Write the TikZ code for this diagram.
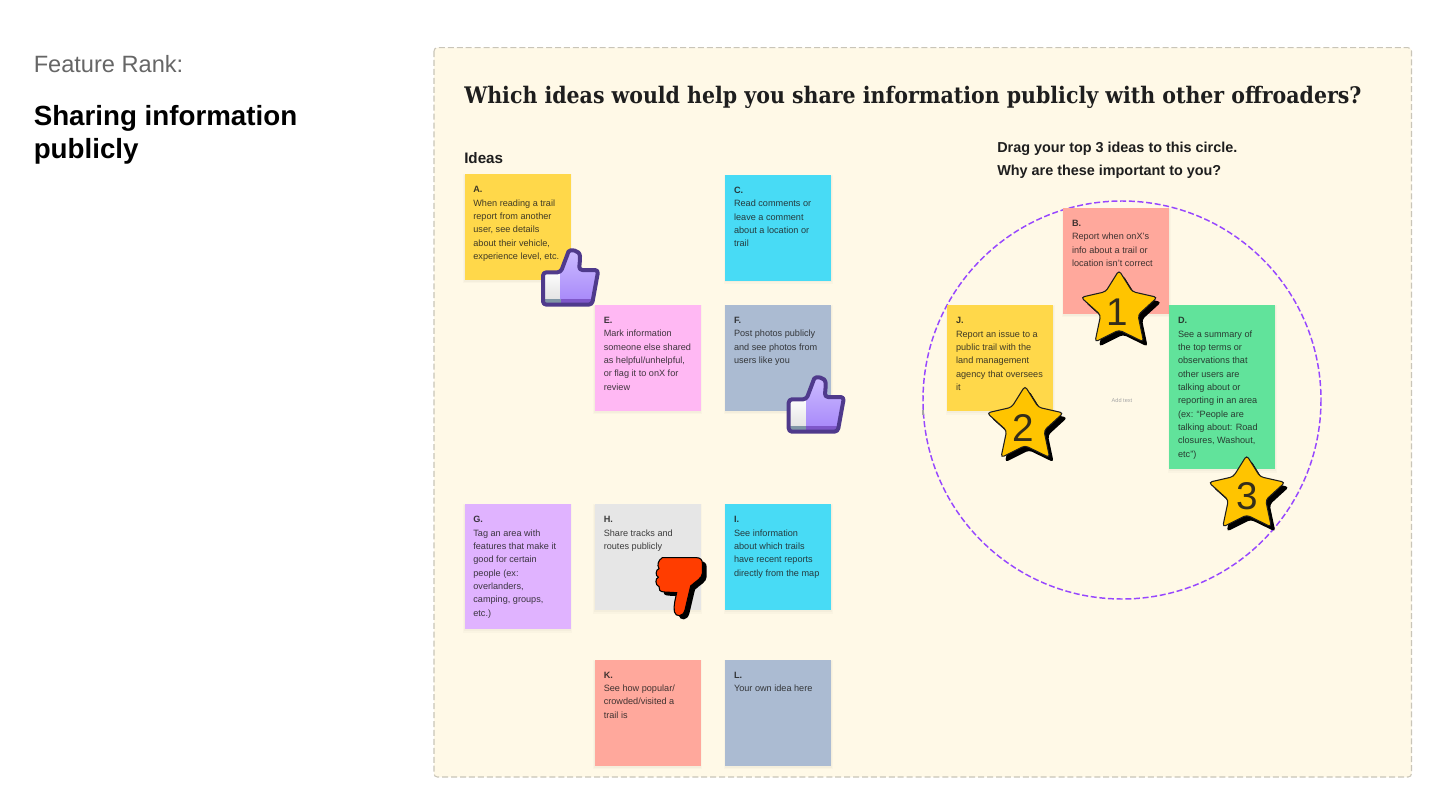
\documentclass[tikz,border=0pt]{standalone}
\usepackage{fontspec}
\setmainfont{Liberation Sans}
\newfontfamily\arialf{Liberation Sans}
\newfontfamily\titlef{DejaVu Serif Condensed}
\definecolor{framefill}{HTML}{FFF9E7}
\definecolor{framedash}{HTML}{C9C5B8}
\definecolor{ink}{HTML}{1E1E1E}
\definecolor{syellow}{HTML}{FFD84A}
\definecolor{scyan}{HTML}{48DBF5}
\definecolor{spink}{HTML}{FFB8F3}
\definecolor{sslate}{HTML}{ABBBD2}
\definecolor{spurple}{HTML}{E0B3FF}
\definecolor{sgrey}{HTML}{E6E6E6}
\definecolor{ssalmon}{HTML}{FFA89C}
\definecolor{sgreen}{HTML}{61E39B}
\definecolor{circ}{HTML}{9747FF}
\definecolor{thumbline}{HTML}{4F3A8C}
\definecolor{starfill}{HTML}{FFC400}
\definecolor{downred}{HTML}{FF3D00}
\definecolor{thumbtop}{HTML}{CDBDFF}
\definecolor{thumbbot}{HTML}{A98BFA}
\definecolor{thumbband}{HTML}{7E57C9}
\definecolor{cuffband}{HTML}{7F95A5}
\tikzset{
  sticky/.style={anchor=north west,inner sep=0pt,minimum width=79.5pt},
  stickytext/.style={anchor=north west,inner sep=0pt,align=left,text=ink,text opacity=.85,
    font=\fontsize{6.85}{10}\selectfont},
  plainlabel/.style={anchor=base west,inner sep=0pt},
  stardigit/.style={inner sep=0pt,text=ink,text opacity=.9,font=\arialf\fontsize{29}{29}\selectfont},
  pics/thumbup/.style={code={
    \begin{scope}[x=.25pt,y=-.25pt]
      \begin{scope}
        \clip \thumbP;
        \shade[top color=white,bottom color=gray!22] (30,90) rectangle (92,180);
        \fill[cuffband] (30,178) rectangle (92,200);
        \shade[top color=thumbtop,bottom color=thumbbot] (92,25) rectangle (210,178);
        \fill[thumbband] (92,178) rectangle (210,200);
      \end{scope}
      \draw[thumbline,line width=3pt,line join=round] \thumbP;
    \end{scope}}},
  pics/bigstar/.style={code={
    \begin{scope}[x=.25pt,y=-.25pt]
      \fill[black,shift={(12,14)}] \starP;
      \draw[fill=starfill,draw=ink,line width=.8pt] \starP;
    \end{scope}}},
  pics/thumbdown/.style={code={
    \begin{scope}[x=.25pt,y=-.25pt]
      \fill[black,shift={(13,11)}] \downP;
      \draw[fill=downred,draw=black,line width=.8pt] \downP;
    \end{scope}}},
}
\def\thumbP{[rounded corners=2.5pt] (39,194) -- (39,97) -- (92,97) -- (112,44) .. controls (118,28) and (150,28) .. (150,60) -- (147,90) -- (205,90) -- (186,194) -- cycle}
\def\starP{[rounded corners=2.5pt] (147,31) -- (187,95) -- (262,112) -- (204,165) -- (221,246) -- (147,210) -- (75,246) -- (92,165) -- (33,112) -- (107,95) -- cycle}
\def\downP{(52,23) -- (155,23) .. controls (166,23) and (172,30) .. (172,40) -- (172,70) .. controls (172,85) and (150,95) .. (137,108) -- (120,180) .. controls (114,202) and (92,202) .. (88,185) .. controls (85,165) and (92,145) .. (95,128) -- (58,126) .. controls (45,126) and (40,118) .. (42,110) .. controls (30,105) and (30,85) .. (40,82) .. controls (30,78) and (32,58) .. (42,56) .. controls (35,45) and (40,30) .. (52,23) -- cycle}
\newcommand{\stk}[6]{%
  \fill[black,opacity=.02] (#2-1.5,#3) rectangle (#2+107.5,#3+#4+3.5);
  \fill[black,opacity=.025] (#2-.5,#3+1) rectangle (#2+106.5,#3+#4+2);
  \node[sticky,fill=#5,minimum height={(#4)*.75pt}] (#1) at (#2,#3) {};
  \node[stickytext] (#1t) at (#2+8.8,#3+9.2) {\rule{0pt}{7pt}#6};
}
\begin{document}
\begin{tikzpicture}[x=.75pt,y=-.75pt]
\useasboundingbox (0,0) rectangle (1440,810);
\fill[white] (0,0) rectangle (1440,810);
\node[plainlabel,text=black!60,font=\arialf\fontsize{17.7}{18}\selectfont] (rank) at (33.5,72.7) {Feature Rank:};
\node[plainlabel,text=black,font=\arialf\bfseries\fontsize{20.8}{21}\selectfont] (share1) at (33.5,125) {Sharing information};
\node[plainlabel,text=black,font=\arialf\bfseries\fontsize{20.8}{21}\selectfont] (share2) at (33.5,158.5) {publicly};
\draw[fill=framefill,draw=framedash,line width=.8pt,dash pattern=on 4.5pt off 2.2pt,rounded corners=2.5pt] (434,47.7) rectangle (1411.5,777);
\node[plainlabel,text=ink,font=\titlef\bfseries\fontsize{17.1}{18}\selectfont] (title) at (464,103) {Which ideas would help you share information publicly with other offroaders?};
\node[plainlabel,text=ink,font=\bfseries\fontsize{11.4}{12}\selectfont] (ideas) at (464,163.5) {Ideas};
\node[plainlabel,text=ink,font=\bfseries\fontsize{10.8}{12}\selectfont] (drag1) at (997,152.7) {Drag your top 3 ideas to this circle.};
\node[plainlabel,text=ink,font=\bfseries\fontsize{10.8}{12}\selectfont] (drag2) at (997,175) {Why are these important to you?};
\draw[circ,line width=1.1pt,dash pattern=on 4.5pt off 2pt] (1122,400) circle (199);
\fill[black!35] (921.5,410) rectangle (923.5,415);
\node[inner sep=0pt,text=black!35,font=\fontsize{4.2}{5}\selectfont] (addtext) at (1122,400) {Add text};
\stk{a}{464.3}{174}{105.7}{syellow}{\textbf{A.}\\When reading a trail\\report from another\\user, see details\\about their vehicle,\\experience level, etc.}
\stk{c}{725}{174.7}{105.7}{scyan}{\textbf{C.}\\Read comments or\\leave a comment\\about a location or\\trail}
\stk{e}{594.7}{304.7}{106}{spink}{\textbf{E.}\\Mark information\\someone else shared\\as helpful/unhelpful,\\or flag it to onX for\\review}
\stk{f}{725}{304.7}{106}{sslate}{\textbf{F.}\\Post photos publicly\\and see photos from\\users like you}
\stk{g}{464.3}{504}{125}{spurple}{\textbf{G.}\\Tag an area with\\features that make it\\good for certain\\people (ex:\\overlanders,\\camping, groups,\\etc.)}
\stk{h}{594.7}{504}{106}{sgrey}{\textbf{H.}\\Share tracks and\\routes publicly}
\stk{i}{725}{504}{106}{scyan}{\textbf{I.}\\See information\\about which trails\\have recent reports\\directly from the map}
\stk{k}{594.7}{659.5}{106}{ssalmon}{\textbf{K.}\\See how popular/\\crowded/visited a\\trail is}
\stk{l}{725}{659.5}{106}{sslate}{\textbf{L.}\\Your own idea here}
\stk{b}{1063}{207.7}{106}{ssalmon}{\textbf{B.}\\Report when onX’s\\info about a trail or\\location isn’t correct}
\stk{j}{947}{305}{106}{syellow}{\textbf{J.}\\Report an issue to a\\public trail with the\\land management\\agency that oversees\\it}
\stk{d}{1169}{305}{164}{sgreen}{\textbf{D.}\\See a summary of\\the top terms or\\observations that\\other users are\\talking about or\\reporting in an area\\(ex: “People are\\talking about: Road\\closures, Washout,\\etc”)}
\pic at (530,240) {thumbup};
\pic at (775.7,367) {thumbup};
\pic at (645,550) {thumbdown};
\pic at (1070,260) {bigstar};
\pic at (976,375.6) {bigstar};
\pic at (1197.7,445) {bigstar};
\node[stardigit] (s1) at (1117.5,312) {1};
\node[stardigit] (s2) at (1023.5,427.5) {2};
\node[stardigit] (s3) at (1247,496) {3};
\end{tikzpicture}
\end{document}
